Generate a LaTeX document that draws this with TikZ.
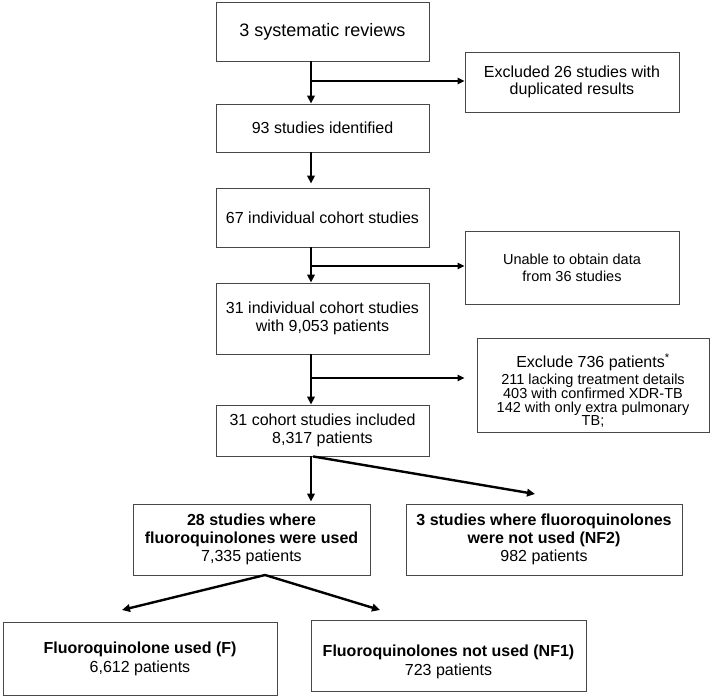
\documentclass[tikz,border=0pt]{standalone}
\usepackage{fontspec}
\setmainfont{Liberation Sans}
\usetikzlibrary{arrows.meta}
\begin{document}
\begin{tikzpicture}[x=1pt,y=-1pt,
  box/.style={draw=black!72, line width=0.9pt, rectangle, inner sep=0pt, align=center, font=\fontsize{16}{18}\selectfont},
  txt/.style={inner sep=0pt, align=center, font=\fontsize{16}{18}\selectfont},
  trunk/.style={draw=black, line width=2.4pt, -{Triangle[length=8pt,width=7.5pt]}},
  branch/.style={draw=black, line width=1.3pt, -{Triangle[length=7pt,width=6.5pt]}},
]
\useasboundingbox (0,0) rectangle (716,696);
% main column
\node[box, minimum width=213pt, minimum height=59pt, font=\fontsize{18}{20}\selectfont] (b1) at (322.5,31.5) {3 systematic reviews};
\node[box, minimum width=213pt, minimum height=48pt] (b2) at (322.5,128) {93 studies identified};
\node[box, minimum width=213pt, minimum height=59pt] (b3) at (322.5,217.5) {67 individual cohort studies};
\node[box, minimum width=213pt, minimum height=71pt] (b4) at (322.5,318.5) {31 individual cohort studies\\with 9,053 patients};
\node[box, minimum width=213pt, minimum height=51pt] (b5) at (322.5,430.5) {31 cohort studies included\\8,317 patients};
% exclusions
\node[box, minimum width=214pt, minimum height=60pt, font=\fontsize{16}{17}\selectfont] (e1) at (572,82) {Excluded 26 studies with\\duplicated results};
\node[box, minimum width=214pt, minimum height=73pt, font=\fontsize{14.5}{17}\selectfont] (e2) at (572,267.5) {Unable to obtain data\\from 36 studies};
\node[box, minimum width=232pt, minimum height=94pt] (e3) at (593,385) {};
\node[txt, font=\fontsize{14.5}{13.6}\selectfont] (e3t) at (593,390.5)
  {\setlength{\lineskiplimit}{-20pt}{\fontsize{16}{16}\selectfont Exclude 736 patients\textsuperscript{*}}\\[2.5pt]
   211 lacking treatment details\\403 with confirmed XDR-TB\\142 with only extra pulmonary\\TB;};
% split level
\node[box, minimum width=237pt, minimum height=71pt] (c1) at (251.5,539.5) {\textbf{28 studies where}\\\textbf{fluoroquinolones were used}\\7,335 patients};
\node[box, minimum width=276pt, minimum height=71pt] (c2) at (544,539.5) {\textbf{3 studies where fluoroquinolones}\\\textbf{were not used (NF2)}\\982 patients};
\node[box, minimum width=274pt, minimum height=73pt, font=\fontsize{16}{19}\selectfont] (d1) at (140,658.5) {\textbf{Fluoroquinolone used (F)}\\6,612 patients};
\node[box, minimum width=275pt, minimum height=71pt] (d2) at (448.5,655.5) {};
\node[txt, font=\fontsize{16}{19}\selectfont] (d2t) at ([yshift=-6pt]d2.center) {\textbf{Fluoroquinolones not used (NF1)}\\723 patients};
% connectors
\coordinate (tx) at (311,0);
\coordinate (j1) at (311,81);
\coordinate (j2) at (311,266);
\coordinate (j3) at (311,378);
\draw[trunk] (tx |- b1.south) -- (tx |- b2.north);
\draw[branch] (j1) -- (j1 -| e1.west);
\draw[trunk, shorten >=4pt] (tx |- b2.south) -- (tx |- b3.north);
\draw[trunk] (tx |- b3.south) -- (tx |- b4.north);
\draw[branch] (j2) -- (j2 -| e2.west);
\draw[trunk] (tx |- b4.south) -- (tx |- b5.north);
\draw[branch, shorten >=12pt] (j3) -- (j3 -| e3.west);
\draw[trunk, shorten >=2pt] (tx |- b5.south) -- (tx |- c1.north);
\coordinate (c2in) at (535,494);
\draw[trunk] ([xshift=2pt]tx |- b5.south) -- (c2in);
\coordinate (c1out) at (265,575);
\coordinate (d1in) at (122,610);
\coordinate (d2in) at (380,610);
\draw[trunk] (c1out) -- (d1in);
\draw[trunk] (c1out) -- (d2in);
\end{tikzpicture}
\end{document}
